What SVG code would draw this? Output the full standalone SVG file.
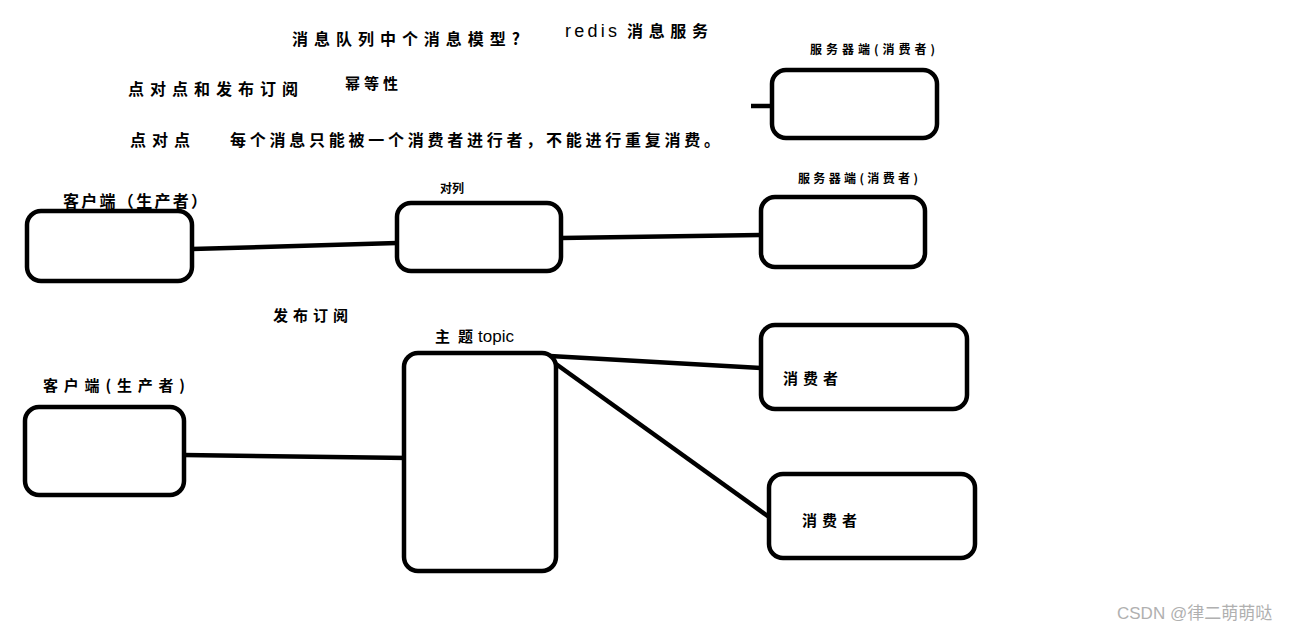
<svg xmlns="http://www.w3.org/2000/svg" width="1303" height="631" viewBox="0 0 1303 631">
<style>
.box{fill:#fff;stroke:#000;stroke-width:4.5}
.ln{stroke:#000;stroke-width:4.5;fill:none}
.t{font-family:"Noto Sans CJK SC","Noto Sans",sans-serif;font-weight:bold;fill:#000}
.r{font-family:"Liberation Sans","Noto Sans CJK SC",sans-serif;fill:#000}
.wm{font-family:"Liberation Sans","Noto Sans CJK SC",sans-serif;fill:#b0b0b0}
</style>
<rect width="1303" height="631" fill="#fff"/>
<g id="texts">
<text class="t" x="292" y="45" font-size="16" textLength="228" lengthAdjust="spacing">消息队列中个消息模型?</text>
<text class="r" x="565" y="37" font-size="18" textLength="52" lengthAdjust="spacing">redis</text>
<text class="t" x="627" y="37" font-size="16" textLength="81" lengthAdjust="spacing">消息服务</text>
<text class="t" x="128" y="95" font-size="16" textLength="170" lengthAdjust="spacing">点对点和发布订阅</text>
<text class="t" x="345" y="89" font-size="15" textLength="53" lengthAdjust="spacing">幂等性</text>
<text class="t" x="130" y="146" font-size="16" textLength="60" lengthAdjust="spacing">点对点</text>
<text class="t" x="230" y="146" font-size="16" textLength="490" lengthAdjust="spacing">每个消息只能被一个消费者进行者，不能进行重复消费。</text>
<text class="t" x="273" y="321" font-size="15" textLength="75" lengthAdjust="spacing">发布订阅</text>
</g>
<g id="connectors">
<line class="ln" x1="192" y1="249" x2="397" y2="243"/>
<line class="ln" x1="561" y1="238" x2="760" y2="235"/>
<line class="ln" x1="751" y1="106" x2="772" y2="106"/>
<line class="ln" x1="184" y1="455" x2="409" y2="458"/>
<line class="ln" x1="550" y1="356" x2="761" y2="368"/>
<line class="ln" x1="556" y1="364" x2="769" y2="517"/>
</g>
<g id="client1">
<rect class="box" x="27" y="211" width="165" height="70" rx="14"/>
<text class="t" x="63" y="207" font-size="16" textLength="144" lengthAdjust="spacing">客户端（生产者）</text>
</g>
<g id="queue">
<rect class="box" x="397" y="203" width="164" height="68" rx="14"/>
<text class="t" x="440" y="193" font-size="12">对列</text>
</g>
<g id="server1">
<rect class="box" x="772" y="70" width="165" height="68" rx="14"/>
<text class="t" x="810" y="54" font-size="12" textLength="125" lengthAdjust="spacing">服务器端(消费者)</text>
</g>
<g id="server2">
<rect class="box" x="761" y="197" width="164" height="70" rx="14"/>
<text class="t" x="798" y="183" font-size="12" textLength="120" lengthAdjust="spacing">服务器端(消费者)</text>
</g>
<g id="client2">
<rect class="box" x="25" y="407" width="159" height="88" rx="14"/>
<text class="t" x="43" y="391" font-size="15" textLength="142" lengthAdjust="spacing">客户端(生产者)</text>
</g>
<g id="topic">
<rect class="box" x="404" y="353" width="152" height="218" rx="14"/>
<text class="t" x="435" y="342" font-size="15" textLength="38" lengthAdjust="spacing">主题</text>
<text class="r" x="478" y="342" font-size="17">topic</text>
</g>
<g id="consumer1">
<rect class="box" x="761" y="325" width="206" height="84" rx="14"/>
<text class="t" x="783" y="384" font-size="15" textLength="55" lengthAdjust="spacing">消费者</text>
</g>
<g id="consumer2">
<rect class="box" x="769" y="474" width="206" height="84" rx="14"/>
<text class="t" x="802" y="526" font-size="15" textLength="55" lengthAdjust="spacing">消费者</text>
</g>
<text class="wm" x="1117" y="619" font-size="17">CSDN @律二萌萌哒</text>
</svg>
